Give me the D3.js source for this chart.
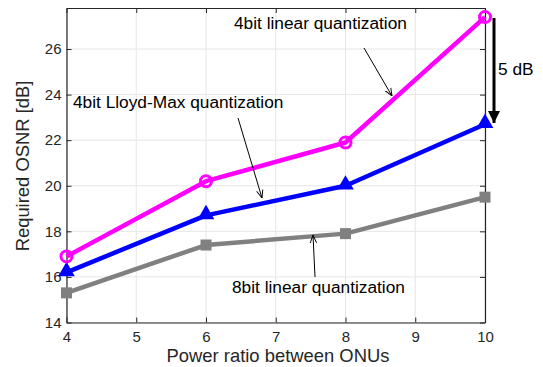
<!DOCTYPE html>
<html lang="en">
<head>
  <meta charset="UTF-8">
  <title>Required OSNR vs power ratio</title>
  <script src="https://d3js.org/d3.v7.min.js"></script>
  <style>
    body { margin: 0; background: #fff; }
    svg { font-family: Arial, "Liberation Sans", sans-serif; }
  </style>
</head>
<body>
  <svg id="chart" width="543" height="367"></svg>

  <script>
    // Data
    const powerRatio = [4, 6, 8, 10];
    const linear4bit = [16.9, 20.2, 21.9, 27.4];
    const lloydMax4bit = [16.2, 18.7, 20.0, 22.7];
    const linear8bit = [15.3, 17.4, 17.9, 19.5];
    const xTicks = [4, 5, 6, 7, 8, 9, 10];
    const yTicks = [14, 16, 18, 20, 22, 24, 26];

    const svg = d3.select("#chart");
    const mLeft = 66.5, mRight = 485, mTop = 8, mBottom = 322.5;

    const x = d3.scaleLinear().domain([4, 10]).range([mLeft, mRight]);
    const y = d3.scaleLinear().domain([14, 27.8]).range([mBottom, mTop]);

    // Grid
    svg.append("g").selectAll("line").data(xTicks).enter().append("line")
      .attr("x1", d => x(d)).attr("x2", d => x(d))
      .attr("y1", mTop).attr("y2", mBottom)
      .attr("stroke", "#e6e6e6").attr("stroke-width", 1);
    svg.append("g").selectAll("line").data(yTicks).enter().append("line")
      .attr("x1", mLeft).attr("x2", mRight)
      .attr("y1", d => y(d)).attr("y2", d => y(d))
      .attr("stroke", "#e6e6e6").attr("stroke-width", 1);

    // Axes (MATLAB style, ticks inward)
    const fmt = d3.format("d");
    const xAxis = d3.axisBottom(x).tickValues(xTicks).tickFormat(fmt).tickSizeInner(-5).tickSizeOuter(0).tickPadding(9);
    const yAxis = d3.axisLeft(y).tickValues(yTicks).tickFormat(fmt).tickSizeInner(-5).tickSizeOuter(0).tickPadding(5);
    const xTop = d3.axisTop(x).tickValues(xTicks).tickSizeInner(-5).tickSizeOuter(0).tickFormat("");
    const yRight = d3.axisRight(y).tickValues(yTicks).tickSizeInner(-5).tickSizeOuter(0).tickFormat("");

    function styleAxis(g) {
      g.select(".domain").attr("stroke", "#262626").attr("stroke-width", 1.2);
      g.selectAll(".tick line").attr("stroke", "#262626");
      g.selectAll("text").attr("fill", "#262626").style("font-size", "15px");
    }

    svg.append("g").attr("transform", `translate(0,${mBottom})`).call(xAxis).call(styleAxis);
    svg.append("g").attr("transform", `translate(${mLeft},0)`).call(yAxis).call(styleAxis);
    svg.append("g").attr("transform", `translate(0,${mTop})`).call(xTop).call(styleAxis);
    svg.append("g").attr("transform", `translate(${mRight},0)`).call(yRight).call(styleAxis);

    // Series
    const series = [
      { values: linear8bit, color: "#808080", marker: "square" },
      { values: lloydMax4bit, color: "#0000ff", marker: "triangle" },
      { values: linear4bit, color: "#ff00ff", marker: "circle" }
    ];

    const line = d3.line().x((d, i) => x(powerRatio[i])).y(d => y(d));

    series.forEach(s => {
      const g = svg.append("g");
      g.append("path").datum(s.values)
        .attr("d", line)
        .attr("fill", "none")
        .attr("stroke", s.color)
        .attr("stroke-width", 4.5)
        .attr("stroke-linejoin", "round");

      const pts = g.selectAll(".mk").data(s.values).enter();
      if (s.marker === "circle") {
        pts.append("circle")
          .attr("cx", (d, i) => x(powerRatio[i])).attr("cy", d => y(d))
          .attr("r", 5.5)
          .attr("fill", "none").attr("stroke", s.color).attr("stroke-width", 3);
      } else if (s.marker === "triangle") {
        pts.append("path")
          .attr("d", d3.symbol().type(d3.symbolTriangle).size(120))
          .attr("transform", (d, i) => `translate(${x(powerRatio[i])},${y(d) - 1})`)
          .attr("fill", s.color);
      } else {
        pts.append("rect")
          .attr("x", (d, i) => x(powerRatio[i]) - 5.5).attr("y", d => y(d) - 5.5)
          .attr("width", 11).attr("height", 11)
          .attr("fill", s.color);
      }
    });

    // Arrowheads
    const defs = svg.append("defs");
    defs.append("marker").attr("id", "thin").attr("viewBox", "0 0 10 10")
      .attr("refX", 10).attr("refY", 5).attr("markerWidth", 8).attr("markerHeight", 8)
      .attr("markerUnits", "userSpaceOnUse").attr("orient", "auto")
      .append("path").attr("d", "M0,1 L10,5 L0,9").attr("fill", "none").attr("stroke", "#000").attr("stroke-width", 1.2);
    defs.append("marker").attr("id", "thick").attr("viewBox", "0 0 10 10")
      .attr("refX", 10).attr("refY", 5).attr("markerWidth", 12).attr("markerHeight", 12)
      .attr("markerUnits", "userSpaceOnUse").attr("orient", "auto")
      .append("path").attr("d", "M0,0 L10,5 L0,10 Z").attr("fill", "#000");

    // Annotations
    const notes = [
      { text: "4bit linear quantization", tx: 234, ty: 29, from: [364, 48], to: [392, 96] },
      { text: "4bit Lloyd-Max quantization", tx: 73, ty: 108, from: [238, 118], to: [262, 198] },
      { text: "8bit linear quantization", tx: 232, ty: 293, from: [315, 277], to: [313, 235] }
    ];
    notes.forEach(n => {
      svg.append("text").attr("x", n.tx).attr("y", n.ty)
        .attr("fill", "#000").style("font-size", "17.3px").text(n.text);
      svg.append("line")
        .attr("x1", n.from[0]).attr("y1", n.from[1])
        .attr("x2", n.to[0]).attr("y2", n.to[1])
        .attr("stroke", "#000").attr("stroke-width", 1)
        .attr("marker-end", "url(#thin)");
    });

    svg.append("line")
      .attr("x1", 494).attr("y1", 18).attr("x2", 494).attr("y2", 123)
      .attr("stroke", "#000").attr("stroke-width", 3)
      .attr("marker-end", "url(#thick)");
    svg.append("text").attr("x", 498).attr("y", 75)
      .attr("fill", "#000").style("font-size", "17.3px").text("5 dB");

    // Axis labels
    svg.append("text").attr("x", 278).attr("y", 362)
      .attr("text-anchor", "middle").attr("fill", "#262626")
      .style("font-size", "18.4px").text("Power ratio between ONUs");
    svg.append("text")
      .attr("transform", `translate(29,166) rotate(-90)`)
      .attr("text-anchor", "middle").attr("fill", "#262626")
      .style("font-size", "18.4px").text("Required OSNR [dB]");
  </script>
</body>
</html>
